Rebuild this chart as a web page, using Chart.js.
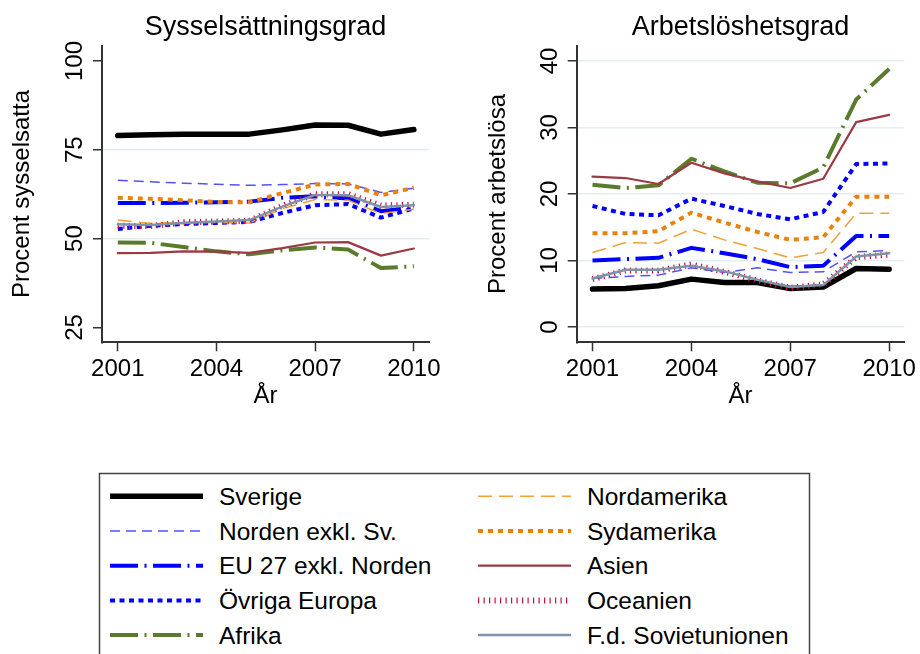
<!DOCTYPE html>
<html>
<head>
<meta charset="utf-8">
<script src="https://cdn.jsdelivr.net/npm/chart.js@4.4.0/dist/chart.umd.min.js"></script>
<style>
body { margin: 0; background: #fff; width: 920px; height: 654px; overflow: hidden; position: relative; }
canvas { position: absolute; top: 0; }
#chart-syss { left: 0; }
#chart-arbl { left: 460px; }
#legend { position: absolute; left: 0; top: 0; }
</style>
</head>
<body>
<canvas id="chart-syss" width="460" height="420"></canvas>
<canvas id="chart-arbl" width="460" height="420"></canvas>
<svg id="legend" width="920" height="654" xmlns="http://www.w3.org/2000/svg"></svg>
<script>
var years = [2001, 2002, 2003, 2004, 2005, 2006, 2007, 2008, 2009, 2010];
var xTicks = [2001, 2004, 2007, 2010];
var sysTicks = [25, 50, 75, 100];
var arbTicks = [0, 10, 20, 30, 40];
var seriesNames = ["Sverige", "Norden exkl. Sv.", "EU 27 exkl. Norden", "Övriga Europa", "Afrika",
                   "Nordamerika", "Sydamerika", "Asien", "Oceanien", "F.d. Sovietunionen"];

// Sysselsättningsgrad (procent sysselsatta)
var sysSverige   = [79.0, 79.2, 79.4, 79.4, 79.4, 80.6, 82.0, 81.9, 79.4, 80.7];
var sysNorden    = [66.4, 66.0, 65.6, 65.3, 65.0, 65.2, 65.5, 65.4, 63.0, 64.2];
var sysEU27      = [60.0, 60.0, 60.1, 60.2, 60.4, 61.5, 61.9, 61.3, 57.7, 58.7];
var sysOvrigaEur = [52.7, 53.6, 54.1, 54.4, 54.7, 57.2, 59.4, 59.7, 55.9, 58.5];
var sysAfrika    = [48.9, 48.8, 47.6, 46.4, 45.6, 46.7, 47.5, 46.9, 41.7, 42.2];
var sysNordam    = [55.2, 54.3, 54.5, 54.5, 54.4, 58.4, 61.0, 60.8, 57.0, 58.3];
var sysSydam     = [61.5, 61.2, 60.8, 60.3, 60.2, 62.8, 65.2, 65.4, 62.2, 64.3];
var sysAsien     = [45.9, 46.0, 46.4, 46.3, 46.0, 47.3, 48.9, 49.0, 45.2, 47.2];
var sysOceanien  = [53.6, 53.5, 54.6, 54.8, 55.0, 59.2, 62.5, 62.5, 59.3, 59.5];
var sysSovjet    = [54.0, 53.8, 54.4, 54.8, 55.2, 59.0, 62.3, 62.2, 58.9, 59.4];

// Arbetslöshetsgrad (procent arbetslösa)
var arbSverige   = [5.7, 5.8, 6.2, 7.2, 6.7, 6.7, 5.8, 6.0, 8.8, 8.7];
var arbNorden    = [7.3, 7.6, 7.8, 8.9, 8.2, 8.9, 8.2, 8.3, 11.3, 11.5];
var arbEU27      = [10.0, 10.2, 10.4, 11.9, 11.1, 10.2, 9.0, 9.2, 13.7, 13.7];
var arbOvrigaEur = [18.2, 17.0, 16.8, 19.3, 18.2, 17.0, 16.2, 17.3, 24.5, 24.6];
var arbAfrika    = [21.4, 20.9, 21.3, 25.3, 23.4, 21.7, 21.6, 24.0, 34.2, 38.8];
var arbNordam    = [11.2, 12.7, 12.6, 14.7, 13.1, 11.8, 10.4, 11.2, 17.1, 17.1];
var arbSydam     = [14.1, 14.1, 14.4, 17.2, 15.7, 14.3, 13.1, 13.5, 19.6, 19.6];
var arbAsien     = [22.6, 22.4, 21.5, 24.7, 23.1, 21.9, 20.9, 22.3, 30.8, 31.9];
var arbOceanien  = [7.2, 8.5, 8.5, 9.4, 8.3, 7.0, 5.9, 6.4, 10.5, 10.9];
var arbSovjet    = [7.3, 8.6, 8.6, 9.2, 8.4, 7.1, 6.0, 6.3, 10.6, 11.1];

var sysSeries = [sysSverige, sysNorden, sysEU27, sysOvrigaEur, sysAfrika, sysNordam, sysSydam, sysAsien, sysOceanien, sysSovjet];
var arbSeries = [arbSverige, arbNorden, arbEU27, arbOvrigaEur, arbAfrika, arbNordam, arbSydam, arbAsien, arbOceanien, arbSovjet];

// linjestilar, samma ordning som seriesNames
var styles = [
    { color: "#000000", width: 5.5, dash: [], cap: "round" },
    { color: "#5252ff", width: 1.5, dash: [10, 6] },
    { color: "#0000ff", width: 4, dash: [28, 6.5, 2, 6.5] },
    { color: "#0000ff", width: 4, dash: [5, 4.5] },
    { color: "#5a7a2c", width: 4, dash: [28, 6.5, 2, 6.5] },
    { color: "#f2a03c", width: 1.5, dash: [14, 7] },
    { color: "#e8820c", width: 4, dash: [5, 5] },
    { color: "#9a3a44", width: 2.2, dash: [] , cap: "round" },
    { color: "#c8103c", width: 6, dash: [1.2, 4.3] },
    { color: "#7d93a9", width: 2.5, dash: [], cap: "round" }
];

var FONT = '"Liberation Sans", Arial, Helvetica, sans-serif';

function makeDatasets(series) {
    return series.map(function (vals, i) {
        var s = styles[i];
        return {
            label: seriesNames[i],
            data: years.map(function (yr, j) { return { x: yr, y: vals[j] }; }),
            borderColor: s.color,
            borderWidth: s.width,
            borderDash: s.dash,
            borderCapStyle: s.cap || "butt",
            borderJoinStyle: "round",
            pointRadius: 0,
            tension: 0,
            fill: false,
            order: -i
        };
    });
}

// Text kring diagrammen (roterade y-etiketter som i Stata)
var stataText = {
    id: "stataText",
    afterDraw: function (chart, args, o) {
        var ctx = chart.ctx, xs = chart.scales.x, ys = chart.scales.y, a = chart.chartArea;
        var mid = (a.left + a.right) / 2;
        ctx.save();
        ctx.fillStyle = "#000";
        ctx.textBaseline = "alphabetic";
        ctx.textAlign = "center";
        ctx.font = "24px " + FONT;
        ys.ticks.forEach(function (t) {
            ctx.save();
            ctx.translate(o.yTickX, ys.getPixelForValue(t.value));
            ctx.rotate(-Math.PI / 2);
            ctx.fillText(String(t.value), 0, 0);
            ctx.restore();
        });
        xs.ticks.forEach(function (t) {
            ctx.fillText(String(t.value), xs.getPixelForValue(t.value), 376);
        });
        ctx.font = "24px " + FONT;
        ctx.fillText("År", mid, 403);
        ctx.save();
        ctx.translate(o.yTitleX, (a.top + a.bottom) / 2);
        ctx.rotate(-Math.PI / 2);
        ctx.fillText(o.yTitle, 0, 0);
        ctx.restore();
        ctx.font = "27px " + FONT;
        ctx.fillText(o.title, mid, 34.5);
        ctx.restore();
    }
};

function makeChart(id, series, cfg) {
    var ctx = document.getElementById(id).getContext("2d");
    return new Chart(ctx, {
        type: "line",
        data: { datasets: makeDatasets(series) },
        options: {
            responsive: false,
            animation: false,
            layout: { padding: { top: 45.7, right: cfg.padRight, left: 0, bottom: 0 } },
            plugins: {
                legend: { display: false },
                tooltip: { enabled: false },
                stataText: cfg.text
            },
            scales: {
                x: {
                    type: "linear",
                    min: 2000.52,
                    max: 2010.46,
                    afterBuildTicks: function (s) { s.ticks = xTicks.map(function (v) { return { value: v }; }); },
                    afterFit: function (s) { s.height = 420 - 342.3; },
                    ticks: { display: false },
                    grid: { drawOnChartArea: false, drawTicks: true, tickLength: 9, tickColor: "#333", tickWidth: 1.5 },
                    border: { color: "#333", width: 2 }
                },
                y: {
                    type: "linear",
                    min: cfg.yMin,
                    max: cfg.yMax,
                    afterBuildTicks: function (s) { s.ticks = cfg.yTicks.map(function (v) { return { value: v }; }); },
                    afterFit: function (s) { s.width = cfg.axisX; },
                    ticks: { display: false },
                    grid: {
                        color: function (c) {
                            if (!c.tick || cfg.noGrid.indexOf(c.tick.value) >= 0) return "rgba(0,0,0,0)";
                            return "#e4edf0";
                        },
                        lineWidth: 1.5,
                        drawTicks: true,
                        tickLength: 9,
                        tickColor: "#333",
                        tickWidth: 1.5
                    },
                    border: { color: "#333", width: 2 }
                }
            }
        },
        plugins: [stataText]
    });
}

// Start chart-syss
makeChart("chart-syss", sysSeries, {
    yMin: 20.8, yMax: 104.3, yTicks: sysTicks, noGrid: [25, 100],
    axisX: 102, padRight: 31,
    text: { title: "Sysselsättningsgrad", yTitle: "Procent sysselsatta", yTickX: 81.7, yTitleX: 29 }
});
// Akhir chart-syss

// Start chart-arbl
makeChart("chart-arbl", arbSeries, {
    yMin: -2.3, yMax: 42.3, yTicks: arbTicks, noGrid: [],
    axisX: 116.7, padRight: 15.7,
    text: { title: "Arbetslöshetsgrad", yTitle: "Procent arbetslösa", yTickX: 96.7, yTitleX: 45 }
});
// Akhir chart-arbl

// Teckenförklaring
var svg = document.getElementById("legend");
var NS = "http://www.w3.org/2000/svg";
function el(name, attrs, text) {
    var e = document.createElementNS(NS, name);
    for (var k in attrs) e.setAttribute(k, attrs[k]);
    if (text) e.textContent = text;
    svg.appendChild(e);
    return e;
}
el("rect", { x: 99.5, y: 473.5, width: 710, height: 240, fill: "#fff", stroke: "#444", "stroke-width": 1.5 });
seriesNames.forEach(function (name, i) {
    var col = i < 5 ? 0 : 1, row = i % 5;
    var cy = 496.3 + row * 34.7;
    var x0 = col === 0 ? 110 : 478;
    var s = styles[i];
    el("line", {
        x1: x0, y1: cy, x2: x0 + 93, y2: cy,
        stroke: s.color, "stroke-width": s.width,
        "stroke-dasharray": s.dash.length ? s.dash.join(" ") : "none"
    });
    el("text", {
        x: x0 + 109, y: cy + 8.6,
        "font-family": FONT, "font-size": 24.5, fill: "#000"
    }, name);
});
</script>
</body>
</html>
